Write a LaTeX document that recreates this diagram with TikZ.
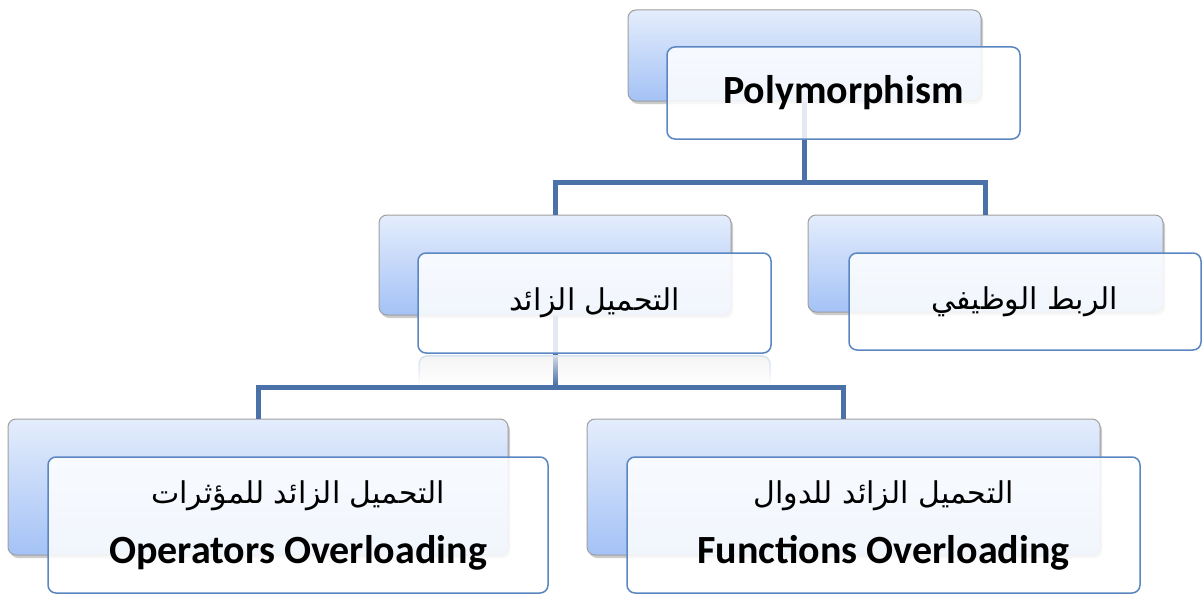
\documentclass[tikz,border=0pt]{standalone}
\usepackage{fontspec}
\setmainfont{Carlito}
\newfontfamily\arabicfont[Script=Arabic]{DejaVu Sans}
\TeXXeTstate=1
\usetikzlibrary{shadows,fadings}
\definecolor{boxtop}{HTML}{E4EDFC}
\definecolor{boxbot}{HTML}{A4C2F6}
\definecolor{frameblue}{HTML}{5A86C2}
\definecolor{linkblue}{HTML}{4A71A8}

\begin{document}
\begin{tikzpicture}[x = 1pt, y = -1pt,
    back/.style = {shape = rectangle, rounded corners = 8pt, draw = gray!75, line width = 1pt, top color = boxtop, bottom color = boxbot, inner sep = 0pt,
        drop shadow = {shadow xshift = 2pt, shadow yshift = -3pt, opacity = 0.4}},
    front/.style = {shape = rectangle, rounded corners = 8pt, draw = frameblue, line width = 1.5pt, fill = white, fill opacity = 0.85, text opacity = 1, inner sep = 0pt, align = center},
    link/.style = {draw = linkblue, line width = 5pt}]
    \useasboundingbox[fill = white] (0,0) rectangle (1202,594);

    \node[back, minimum width = 353pt, minimum height = 91pt] (polyB) at (804.5,55.5) {};
    \node[back, minimum width = 352pt, minimum height = 100pt] (ovlB) at (555,265) {};
    \node[back, minimum width = 355pt, minimum height = 97pt] (bindB) at (985.5,263.5) {};
    \node[back, minimum width = 500pt, minimum height = 136pt] (opsB) at (258,487) {};
    \node[back, minimum width = 513pt, minimum height = 136pt] (funB) at (843.5,487) {};

    \coordinate (J1) at (804.5,182);
    \coordinate (J2) at (555,387);
    \draw[link] (polyB.south) -- (J1) -| (ovlB.north);
    \draw[link] (J1) -| (bindB.north);
    \draw[link] (ovlB.south) -- (J2) -| (opsB.north);
    \draw[link] (J2) -| (funB.north);

    \fill[black!5, fill opacity = 0.8, path fading = south, rounded corners = 8pt] (419,356) -- (419,385) -- (770,385) -- (770,356) -- cycle;
    \draw[frameblue!25, line width = 1.5pt, path fading = south] (419,385) -- (419,364) arc[start angle = 180, end angle = 90, radius = 8pt] -- (762,356) arc[start angle = 90, end angle = 0, radius = 8pt] -- (770,385);

    \node[front, minimum width = 353pt, minimum height = 92pt, font = \bfseries\fontsize{40}{48}\selectfont] (poly) at (843.5,93) {Polymorphism};
    \node[front, minimum width = 353pt, minimum height = 100pt, font = \fontsize{30}{36}\selectfont] (ovl) at (594.5,303) {\arabicfont\beginR التحميل الزائد\endR};
    \node[front, minimum width = 352pt, minimum height = 97pt, font = \fontsize{30}{36}\selectfont] (bind) at (1025,301.5) {\arabicfont\beginR الربط الوظيفي\endR};
    \node[front, minimum width = 500pt, minimum height = 136pt, font = \fontsize{30}{60}\selectfont] (ops) at (298,525) {{\arabicfont\beginR التحميل الزائد للمؤثرات\endR}\\{\fontsize{40}{60}\selectfont\bfseries Operators Overloading}};
    \node[front, minimum width = 513pt, minimum height = 136pt, font = \fontsize{30}{60}\selectfont] (fun) at (883.5,525) {{\arabicfont\beginR التحميل الزائد للدوال\endR}\\{\fontsize{40}{60}\selectfont\bfseries Functions Overloading}};
\end{tikzpicture}
\end{document}
